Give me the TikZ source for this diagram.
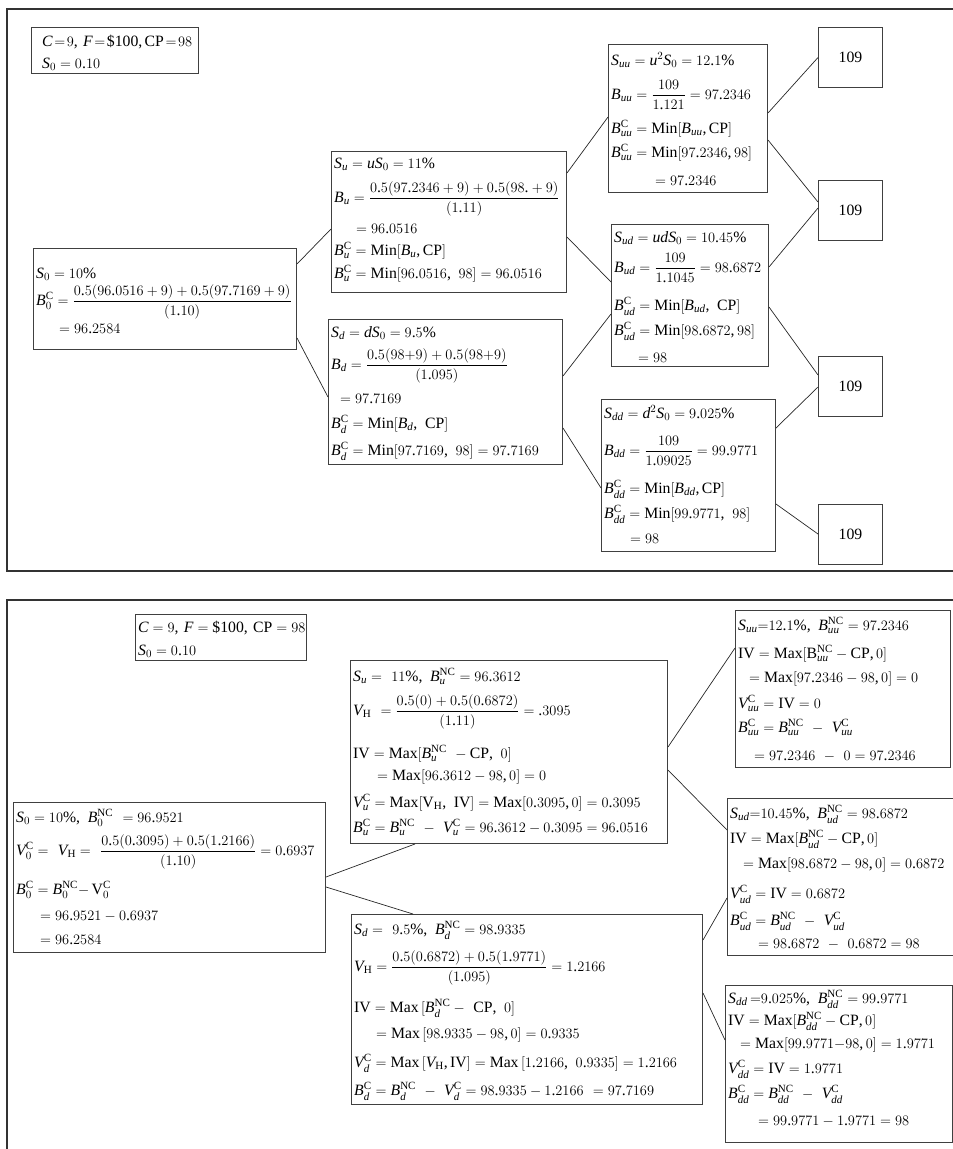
\documentclass[tikz,border=0pt]{standalone}
\usepackage{amsmath}
\usepackage{fontspec}
\setmainfont{Liberation Serif}
\newfontfamily\tmsfamily{Liberation Serif}[NFSSFamily=tmsmain]

% math letters, digits and common signs taken from the text face
\DeclareSymbolFont{tmsup}{TU}{tmsmain}{m}{n}
\DeclareSymbolFont{tmsit}{TU}{tmsmain}{m}{it}
\DeclareMathAlphabet{\mup}{TU}{tmsmain}{m}{n}
\DeclareMathSymbol{B}{\mathalpha}{tmsit}{`B}
\DeclareMathSymbol{C}{\mathalpha}{tmsit}{`C}
\DeclareMathSymbol{F}{\mathalpha}{tmsit}{`F}
\DeclareMathSymbol{S}{\mathalpha}{tmsit}{`S}
\DeclareMathSymbol{V}{\mathalpha}{tmsit}{`V}
\DeclareMathSymbol{u}{\mathalpha}{tmsit}{`u}
\DeclareMathSymbol{d}{\mathalpha}{tmsit}{`d}
\DeclareMathSymbol{0}{\mathalpha}{tmsup}{`0}
\DeclareMathSymbol{1}{\mathalpha}{tmsup}{`1}
\DeclareMathSymbol{2}{\mathalpha}{tmsup}{`2}
\DeclareMathSymbol{3}{\mathalpha}{tmsup}{`3}
\DeclareMathSymbol{4}{\mathalpha}{tmsup}{`4}
\DeclareMathSymbol{5}{\mathalpha}{tmsup}{`5}
\DeclareMathSymbol{6}{\mathalpha}{tmsup}{`6}
\DeclareMathSymbol{7}{\mathalpha}{tmsup}{`7}
\DeclareMathSymbol{8}{\mathalpha}{tmsup}{`8}
\DeclareMathSymbol{9}{\mathalpha}{tmsup}{`9}
\DeclareMathSymbol{.}{\mathord}{tmsup}{`.}
\DeclareMathSymbol{,}{\mathpunct}{tmsup}{`,}
\DeclareMathSymbol{=}{\mathrel}{tmsup}{`=}
\DeclareMathSymbol{+}{\mathbin}{tmsup}{`+}
\DeclareMathSymbol{(}{\mathopen}{tmsup}{`(}
\DeclareMathSymbol{)}{\mathclose}{tmsup}{`)}
\DeclareMathSymbol{[}{\mathopen}{tmsup}{`[}
\DeclareMathSymbol{]}{\mathclose}{tmsup}{`]}

% fixed line pitch (every line break states its own baseline distance),
% and no breaking inside a line
\newcommand\boxfont{\fontsize{15.75}{0pt}\selectfont\lineskiplimit=-\maxdimen
  \relpenalty=10000 \binoppenalty=10000 \relax}
\newcommand\Cs{\mup{C}}
\newcommand\NC{\mup{NC}}
\newcommand\pct{\mup{\%}}
\newcommand\ind[1]{\hspace*{#1pt}}

\tikzset{
  panel/.style={draw=black!80, line width=1.2pt},
  framebox/.style={draw=black!75, line width=1pt, anchor=north west, inner sep=0pt},
  boxtext/.style={anchor=north west, inner sep=0pt, align=left, font=\boxfont, text width=700pt},
  leafbox/.style={draw=black!75, line width=1pt, anchor=north west,
    minimum width=64pt, minimum height=60pt, inner sep=0pt,
    font=\fontsize{15.75}{18}\selectfont},
  link/.style={line width=0.7pt, draw=black!85},
}

% name, x, y, width, height, drop of first line, lines
\newcommand\calcnode[7]{%
  \node[framebox, minimum width=#4pt, minimum height=#5pt] (#1) at (#2,#3) {};
  \node[boxtext, xshift=3pt, yshift=-#6pt] (#1-text) at (#1.north west)
    {\rule{0pt}{14pt}#7};
}

\begin{document}
\begin{tikzpicture}[x=1pt, y=-1pt]
\useasboundingbox (0,0) rectangle (953,1149);
\begin{scope}
\clip (0,0) rectangle (953,1149);

% ---------------- callable bond valued directly ----------------
\draw[panel] (960,9) -- (7,9) -- (7,571) -- (960,571);

\calcnode{infoA}{31}{27}{167}{46}{5}
  {\ind{8}{\thickmuskip=2mu $C=9$, $F=\text{\$100}, \mup{CP}=98$}\\[22pt]
   \ind{8}$S_0 =0.10$}

\calcnode{s0}{33}{248}{263}{101}{16}
  {$S_0 =10\pct$\\[27pt]
   $B_0^{\Cs} = \dfrac{0.5(96.0516 +9) + 0.5(97.7169 +9)}{(1.10)}$\\[28pt]
   \ind{23}$= 96.2584$}

\calcnode{su}{331}{151}{235}{141}{3}
  {$S_u = uS_0 = 11\pct$\\[34pt]
   $B_u = \dfrac{0.5(97.2346 + 9) + 0.5(98.+9)}{(1.11)}$\\[31pt]
   \ind{22}$= 96.0516$\\[22pt]
   $B_u^{\Cs} = \mup{Min}[B_u, \mup{CP}]$\\[23pt]
   $B_u^{\Cs} = \mup{Min}[96.0516,\ 98] = 96.0516$}

\calcnode{sd}{328}{319}{234}{145}{4}
  {$S_d = dS_0 = 9.5\pct$\\[32pt]
   $B_d = \dfrac{0.5(98{+}9) + 0.5(98{+}9)}{(1.095)}$\\[34pt]
   \ind{9}$= 97.7169$\\[25pt]
   $B_d^{\Cs} = \mup{Min}[B_d,\ \mup{CP}]$\\[27pt]
   $B_d^{\Cs} = \mup{Min}[97.7169,\ 98] = 97.7169$}

\calcnode{suu}{608}{44}{159}{148}{7}
  {$S_{uu} = u^2S_0 = 12.1\pct$\\[34pt]
   $B_{uu} = \dfrac{109}{1.121} = 97.2346$\\[34pt]
   $B_{uu}^{\Cs} = \mup{Min}[B_{uu}, \mup{CP}]$\\[24pt]
   $B_{uu}^{\Cs} = \mup{Min}[97.2346, 98]$\\[28pt]
   \ind{44}$= 97.2346$}

\calcnode{sud}{611}{224}{157}{142}{4}
  {$S_{ud} = udS_0 = 10.45\pct$\\[30pt]
   $B_{ud} = \dfrac{109}{1.1045} = 98.6872$\\[38pt]
   $B_{ud}^{\Cs} = \mup{Min}[B_{ud},\ \mup{CP}]$\\[25pt]
   $B_{ud}^{\Cs} = \mup{Min}[98.6872, 98]$\\[27pt]
   \ind{24}$= 98$}

\calcnode{sdd}{601}{399}{174}{152}{5}
  {$S_{dd} = d^2S_0 = 9.025\pct$\\[37pt]
   $B_{dd} = \dfrac{109}{1.09025} = 99.9771$\\[38pt]
   $B_{dd}^{\Cs} = \mup{Min}[B_{dd}, \mup{CP}]$\\[25pt]
   $B_{dd}^{\Cs} = \mup{Min}[99.9771,\ 98]$\\[25pt]
   \ind{26}$= 98$}

\node[leafbox] (t1) at (818,27)  {109};
\node[leafbox] (t2) at (818,180) {109};
\node[leafbox] (t3) at (818,356) {109};
\node[leafbox] (t4) at (818,504) {109};

\draw[link] ([yshift=-16pt]s0.north east)  -- ([yshift=-78pt]su.north west);
\draw[link] ([yshift=-90pt]s0.north east)  -- ([yshift=-78pt]sd.north west);
\draw[link] ([yshift=-22pt]su.north east)  -- ([yshift=-73pt]suu.north west);
\draw[link] ([yshift=-86pt]su.north east)  -- ([yshift=-58pt]sud.north west);
\draw[link] ([yshift=-57pt]sd.north east)  -- ([yshift=-90pt]sud.north west);
\draw[link] ([yshift=-109pt]sd.north east) -- ([yshift=-89pt]sdd.north west);
\draw[link] ([yshift=-69pt]suu.north east) -- (t1.west);
\draw[link] ([yshift=-96pt]suu.north east) -- ([yshift=-22pt]t2.north west);
\draw[link] ([yshift=-43pt]sud.north east) -- ([yshift=-28pt]t2.north west);
\draw[link] ([yshift=-83pt]sud.north east) -- ([yshift=-19pt]t3.north west);
\draw[link] ([yshift=-29pt]sdd.north east) -- ([yshift=-31pt]t3.north west);
\draw[link] ([yshift=-105pt]sdd.north east) -- ([yshift=-30pt]t4.north west);

% ---------------- same bond, call option tracked at each node ----------------
\draw[panel] (960,600) -- (7,600) -- (7,1160);

\calcnode{infoB}{135}{614}{171}{46}{4}
  {$C = 9$, $F= \text{\$100}$, $\mup{CP} = 98$\\[23pt]
   $S_0 = 0.10$}

\calcnode{b0}{13}{802}{312}{150}{6}
  {$S_0 = 10\pct,\ B_0^{\NC} \ = 96.9521$\\[33pt]
   $V_0^{\Cs} = \ V_{\mup{H}} = \ \dfrac{0.5(0.3095) + 0.5(1.2166)}{(1.10)} = 0.6937$\\[39pt]
   $B_0^{\Cs} = B_0^{\NC}{-}\,\mup{V}_0^{\Cs}$\\[26pt]
   \ind{24}$= 96.9521 - 0.6937$\\[24pt]
   \ind{24}$= 96.2584$}

\calcnode{bsu}{350}{660}{317}{183}{7}
  {$S_u = \ 11\pct,\ B_u^{\NC} = 96.3612$\\[34pt]
   $V_{\mup{H}} \ = \dfrac{0.5(0) + 0.5(0.6872)}{(1.11)} = .3095$\\[43pt]
   $\mup{IV} = \mup{Max}[B_u^{\NC} \ - \mup{CP},\ 0]$\\[22pt]
   \ind{24}$= \mup{Max}[96.3612 - 98, 0] = 0$\\[27pt]
   $V_u^{\Cs} = \mup{Max}[\mup{V}_{\mup{H}},\ \mup{IV}] = \mup{Max}[0.3095, 0] = 0.3095$\\[25pt]
   $B_u^{\Cs} = B_u^{\NC} \ - \ V_u^{\Cs} = 96.3612 - 0.3095 = 96.0516$}

\calcnode{bsd}{351}{914}{351}{190}{6}
  {$S_d = \ 9.5\pct,\ B_d^{\NC} = 98.9335$\\[37pt]
   $V_{\mup{H}} = \dfrac{0.5(0.6872) + 0.5(1.9771)}{(1.095)} = 1.2166$\\[41pt]
   $\mup{IV} = \mup{Max}\,[B_d^{\NC} - \ \mup{CP},\ 0]$\\[26pt]
   \ind{22}$= \mup{Max}\,[98.9335 - 98, 0] = 0.9335$\\[29pt]
   $V_d^{\Cs} = \mup{Max}\,[V_{\mup{H}}, \mup{IV}] = \mup{Max}\,[1.2166,\ 0.9335] = 1.2166$\\[28pt]
   $B_d^{\Cs} = B_d^{\NC} \ - \ V_d^{\Cs} = 98.9335 - 1.2166 \ = 97.7169$}

\calcnode{buu}{735}{610}{215}{157}{6}
  {$S_{uu} {=} 12.1\pct,\ B_{uu}^{\NC} = 97.2346$\\[28pt]
   $\mup{IV} = \mup{Max}[\mup{B}_{uu}^{\NC} - \mup{CP}, 0]$\\[24pt]
   \ind{11}$= \mup{Max}[97.2346 - 98, 0] = 0$\\[26pt]
   $V_{uu}^{\Cs} = \mup{IV} = 0$\\[24pt]
   $B_{uu}^{\Cs} = B_{uu}^{\NC} \ - \ V_{uu}^{\Cs}$\\[28pt]
   \ind{16}$= 97.2346 \ - \ 0 = 97.2346$}

\calcnode{bud}{727}{798}{240}{157}{6}
  {$S_{ud} {=} 10.45\pct,\ B_{ud}^{\NC} = 98.6872$\\[25pt]
   $\mup{IV} = \mup{Max}[B_{ud}^{\NC} - \mup{CP}, 0]$\\[25pt]
   \ind{13}$= \mup{Max}[98.6872 - 98, 0] = 0.6872$\\[30pt]
   $V_{ud}^{\Cs} = \mup{IV} = 0.6872$\\[27pt]
   $B_{ud}^{\Cs} = B_{ud}^{\NC} \ - \ V_{ud}^{\Cs}$\\[23pt]
   \ind{28}$= 98.6872 \ - \ 0.6872 = 98$}

\calcnode{bdd}{725}{985}{227}{157}{4}
  {$S_{dd} \,{=}9.025\pct,\ B_{dd}^{\NC} = 99.9771$\\[22pt]
   $\mup{IV} = \mup{Max}[B_{dd}^{\NC} - \mup{CP}, 0]$\\[23pt]
   \ind{12}$= \mup{Max}[99.9771{-}98, 0] = 1.9771$\\[25pt]
   $V_{dd}^{\Cs} = \mup{IV} = 1.9771$\\[25pt]
   $B_{dd}^{\Cs} = B_{dd}^{\NC} \ - \ V_{dd}^{\Cs}$\\[27pt]
   \ind{30}$= 99.9771 - 1.9771 = 98$}

\draw[link] ([yshift=-75pt]b0.north east)   -- ([xshift=65pt]bsu.south west);
\draw[link] ([yshift=-85pt]b0.north east)   -- ([xshift=62pt]bsd.north west);
\draw[link] ([yshift=-87pt]bsu.north east)  -- ([yshift=-38pt]buu.north west);
\draw[link] ([yshift=-110pt]bsu.north east) -- ([yshift=-32pt]bud.north west);
\draw[link] ([yshift=-26pt]bsd.north east)  -- ([yshift=-100pt]bud.north west);
\draw[link] ([yshift=-79pt]bsd.north east)  -- ([yshift=-55pt]bdd.north west);
\end{scope}
\end{tikzpicture}
\end{document}
